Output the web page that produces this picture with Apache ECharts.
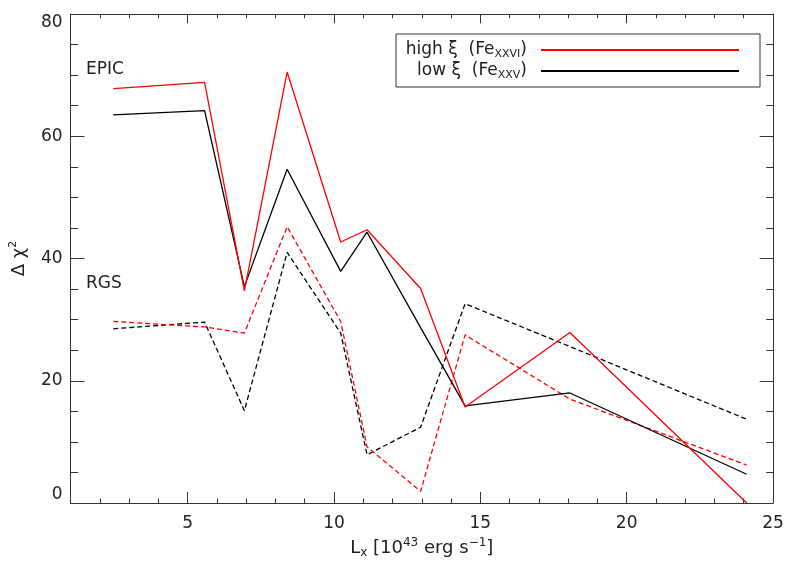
<!DOCTYPE html>
<html>
<head>
<meta charset="utf-8">
<script src="https://cdn.jsdelivr.net/npm/echarts@6/dist/echarts.min.js"></script>
<style>
  html, body { margin: 0; padding: 0; background: #fff; }
  #chart { width: 789px; height: 564px; }
</style>
</head>
<body>
<div id="chart"></div>
<script>
// luminosity bins (10^43 erg/s)
var lx = [2.46, 5.58, 6.94, 8.40, 10.23, 11.13, 12.96, 14.48, 18.06, 24.1];
// delta chi^2, EPIC (solid) and RGS (dashed)
var epicHigh = [67.8, 68.8, 34.7, 70.5, 42.7, 44.7, 35.1, 15.7, 27.9, 0.0];
var epicLow = [63.5, 64.2, 35.4, 54.6, 37.9, 44.3, 28.7, 15.9, 18.0, 4.7];
var rgsHigh = [29.7, 28.8, 27.8, 45.2, 29.7, 9.2, 1.9, 27.5, 17.0, 6.2];
var rgsLow = [28.5, 29.6, 15.1, 41.0, 27.8, 7.9, 12.4, 32.6, 25.6, 13.7];
var xMajor = [5, 10, 15, 20, 25];

var font = 'DejaVu Sans';
var axisCol = '#333';

function pairs(ys) {
    return lx.map(function (x, i) { return [x, ys[i]]; });
}

function line(name, ys, color, dashed) {
    return {
        name: name,
        type: 'line',
        data: pairs(ys),
        symbol: 'none',
        silent: true,
        animation: false,
        lineStyle: { color: color, width: 1.3, type: dashed ? [5, 3] : 'solid' },
        itemStyle: { color: color }
    };
}

// x axes: integer ticks (short) + major ticks with labels, bottom and top
function xAx(pos, minorLen, majorLen, labels) {
    var base = { type: 'value', min: 1, max: 25, position: pos, splitLine: { show: false } };
    return [
        Object.assign({}, base, {
            interval: 1,
            axisLine: { show: true, onZero: false, lineStyle: { color: axisCol, width: 1 } },
            axisTick: { inside: true, length: minorLen, lineStyle: { color: axisCol } },
            axisLabel: { show: false }
        }),
        Object.assign({}, base, {
            axisLine: { show: false, onZero: false },
            axisTick: { inside: true, length: majorLen, customValues: xMajor, lineStyle: { color: axisCol } },
            axisLabel: labels ? {
                show: true, customValues: xMajor, margin: 12,
                fontFamily: font, fontSize: 17, color: '#222'
            } : { show: false }
        })
    ];
}

var xAxes = xAx('bottom', 4.5, 11, true).concat(xAx('top', 4.3, 9.3, false));
xAxes[1].name = 'L{sub|x} [10{sup|43} erg s{sup|\u22121}]';
xAxes[1].nameLocation = 'middle';
xAxes[1].nameGap = 33;
xAxes[1].nameTextStyle = {
    fontFamily: font, fontSize: 18, color: '#222', lineHeight: 22,
    rich: {
        sub: { fontFamily: font, fontSize: 12, color: '#222', verticalAlign: 'bottom', lineHeight: 12 },
        sup: { fontFamily: font, fontSize: 12, color: '#222', verticalAlign: 'top', lineHeight: 12 }
    }
};

function yAx(pos, minorLen, majorLen, labels) {
    return {
        type: 'value', min: 0, max: 80, interval: 20, position: pos,
        splitLine: { show: false },
        axisLine: { show: true, onZero: false, lineStyle: { color: axisCol, width: 1 } },
        axisTick: { inside: true, length: majorLen, lineStyle: { color: axisCol } },
        minorTick: { show: true, splitNumber: 4, length: minorLen, lineStyle: { color: axisCol } },
        axisLabel: labels ? {
            show: true, margin: 8, fontFamily: font, fontSize: 17, color: '#222',
            verticalAlignMaxLabel: 'top', verticalAlignMinLabel: 'bottom'
        } : { show: false }
    };
}

var yLeft = yAx('left', 7.7, 14, true);
yLeft.name = '\u0394 \u03c7{sup|2}';
yLeft.nameLocation = 'middle';
yLeft.nameGap = 40;
yLeft.nameTextStyle = {
    fontFamily: font, fontSize: 18, color: '#222', lineHeight: 22,
    rich: { sup: { fontFamily: font, fontSize: 11, color: '#222', verticalAlign: 'top', lineHeight: 11 } }
};

var legText = {
    fontFamily: font, fontSize: 17, color: '#222', lineHeight: 20,
    rich: {
        n: { fontFamily: font, fontSize: 17, color: '#222', lineHeight: 20 },
        s: { fontFamily: font, fontSize: 11, color: '#222', verticalAlign: 'bottom', lineHeight: 14 },
        e: { fontFamily: font, fontSize: 17, color: '#222', lineHeight: 20, padding: [0, 9, 0, 0] }
    }
};
function legend(name, top, label) {
    return {
        data: [name], right: 49, top: top, orient: 'vertical', align: 'right',
        padding: 0, itemWidth: 198, itemHeight: 20, selectedMode: false,
        itemStyle: { opacity: 0 },
        formatter: function () { return label; },
        textStyle: legText
    };
}

var chart = echarts.init(document.getElementById('chart'));
chart.setOption({
    backgroundColor: '#fff',
    animation: false,
    grid: { left: 70, right: 16, top: 14, bottom: 61 },
    xAxis: xAxes,
    yAxis: [yLeft, yAx('right', 6.7, 13.3, false)],
    legend: [
        legend('high', 40, '{n|high \u03be  (Fe}{s|XXVI}{e|)}'),
        legend('low', 61, '{n|low \u03be  (Fe}{s|XXV}{e|)}')
    ],
    graphic: [
        { type: 'rect', shape: { x: 396, y: 34, width: 364, height: 53 },
          style: { fill: 'none', stroke: axisCol, lineWidth: 1 }, silent: true },
        { type: 'text', x: 86, y: 70,
          style: { text: 'EPIC', font: '17px "DejaVu Sans"', fill: '#222', verticalAlign: 'middle' } },
        { type: 'text', x: 86, y: 284,
          style: { text: 'RGS', font: '17px "DejaVu Sans"', fill: '#222', verticalAlign: 'middle' } }
    ],
    series: [
        line('rgs low', rgsLow, '#000', true),
        line('rgs high', rgsHigh, '#ff0000', true),
        line('low', epicLow, '#000', false),
        line('high', epicHigh, '#ff0000', false)
    ]
});
</script>
</body>
</html>
